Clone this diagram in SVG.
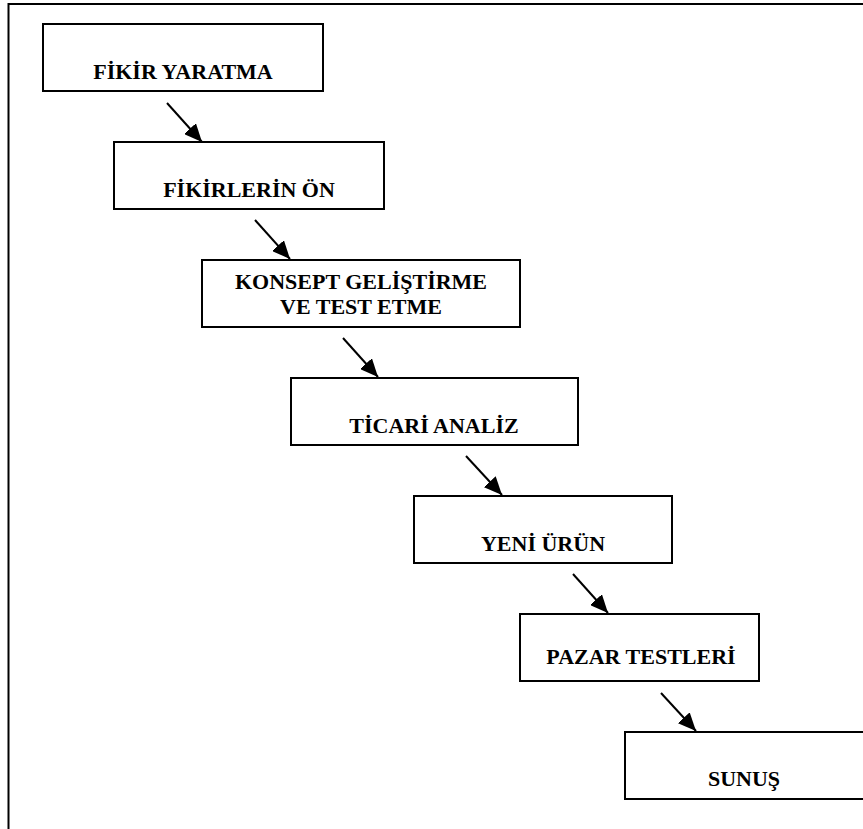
<svg xmlns="http://www.w3.org/2000/svg" width="863" height="829" viewBox="0 0 863 829">
<style>
.box{fill:#fff;stroke:#000;stroke-width:2}
.lbl{font-family:"Liberation Serif","Times New Roman",serif;font-weight:bold;font-size:22px;fill:#000;text-anchor:middle}
.arr{stroke:#000;stroke-width:2;fill:none;marker-end:url(#ah)}
</style>
<defs>
<marker id="ah" markerUnits="userSpaceOnUse" markerWidth="19" markerHeight="16" refX="18" refY="8" orient="auto">
<path d="M0,0 L18,8 L0,16 z" fill="#000"/>
</marker>
</defs>
<rect x="0" y="0" width="863" height="829" fill="#fff"/>
<rect x="8.5" y="4" width="900" height="900" fill="none" stroke="#000" stroke-width="2"/>
<g id="n1"><rect class="box" x="43" y="24" width="280" height="67"/><text class="lbl" x="183" y="79">FİKİR YARATMA</text></g>
<g id="n2"><rect class="box" x="114" y="142" width="270" height="67"/><text class="lbl" x="249" y="197">FİKİRLERİN ÖN</text></g>
<g id="n3"><rect class="box" x="202" y="260" width="318" height="67"/><text class="lbl" x="361" y="289">KONSEPT GELİŞTİRME</text><text class="lbl" x="361" y="314">VE TEST ETME</text></g>
<g id="n4"><rect class="box" x="291" y="378" width="287" height="67"/><text class="lbl" x="434" y="433">TİCARİ ANALİZ</text></g>
<g id="n5"><rect class="box" x="414" y="496" width="258" height="67"/><text class="lbl" x="543" y="551">YENİ ÜRÜN</text></g>
<g id="n6"><rect class="box" x="520" y="614" width="239" height="67"/><text class="lbl" x="641" y="664">PAZAR TESTLERİ</text></g>
<g id="n7"><rect class="box" x="625" y="732" width="260" height="67"/><text class="lbl" x="744" y="786">SUNUŞ</text></g>
<g id="connectors">
<line class="arr" x1="167" y1="103" x2="202" y2="142"/>
<line class="arr" x1="255" y1="220" x2="290" y2="259"/>
<line class="arr" x1="343" y1="338" x2="378" y2="377"/>
<line class="arr" x1="466" y1="456" x2="502" y2="495"/>
<line class="arr" x1="573" y1="574" x2="608" y2="613"/>
<line class="arr" x1="661" y1="693" x2="696" y2="731"/>
</g>
</svg>
